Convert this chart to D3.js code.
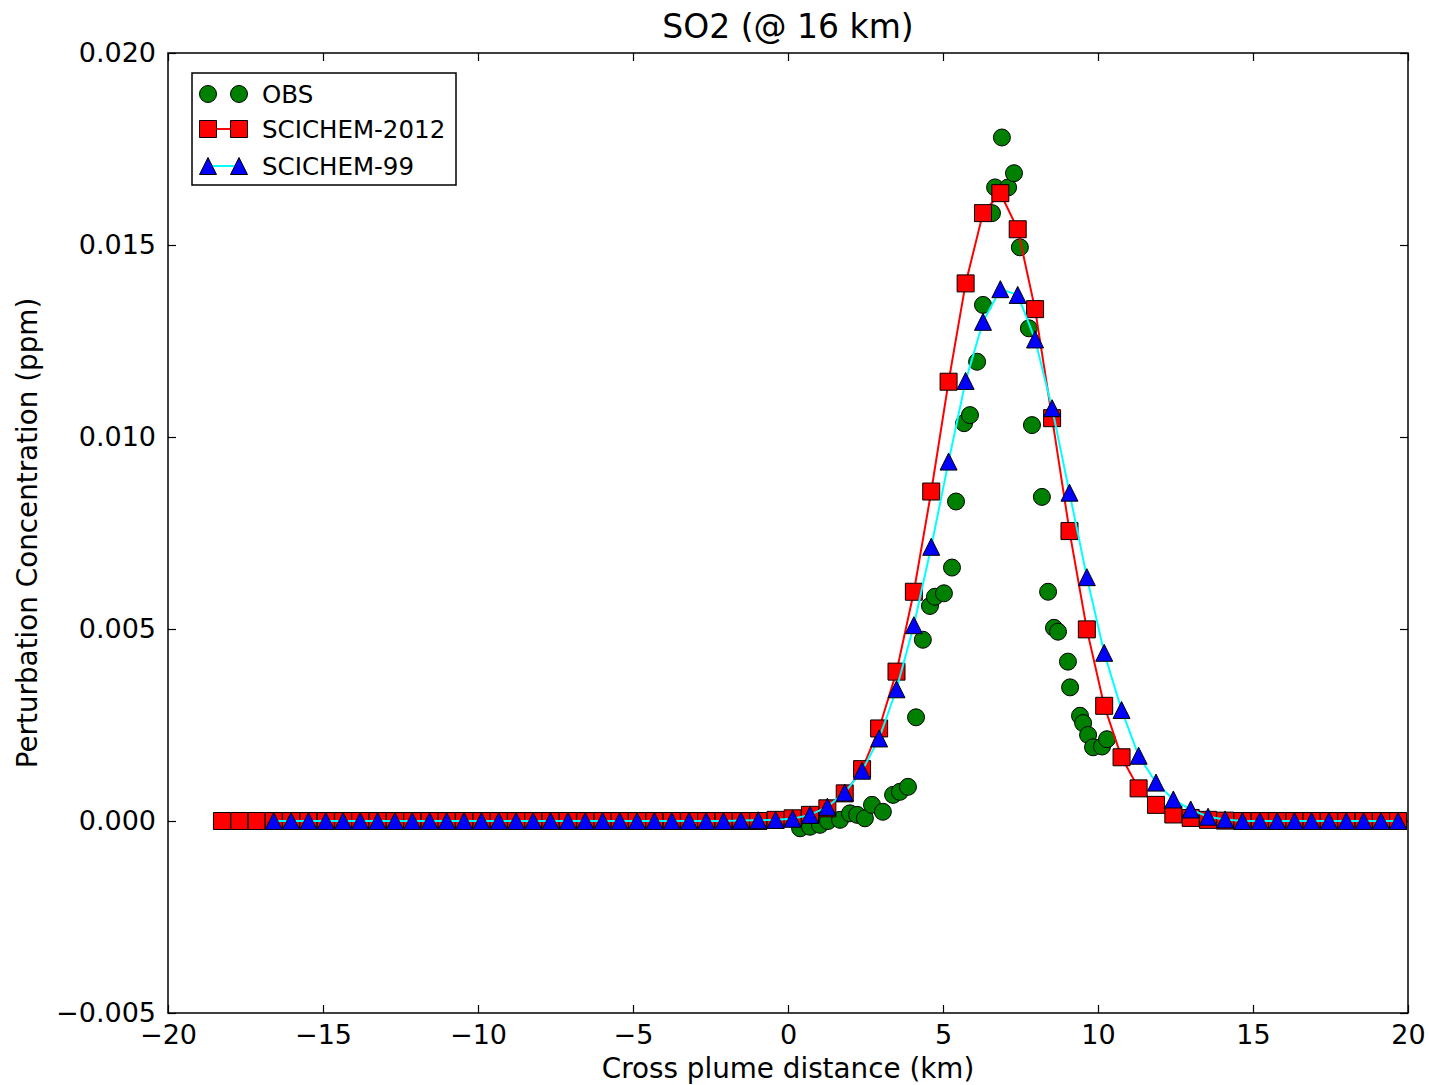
<!DOCTYPE html>
<html>
<head>
<meta charset="utf-8">
<script src="https://cdn.jsdelivr.net/npm/d3@7"></script>
<style>
  body { margin: 0; background: #fff; }
  svg text { font-family: "DejaVu Sans", sans-serif; fill: #000; }
</style>
</head>
<body>
<svg id="chart" width="1429" height="1085"></svg>
<script>
// model grid (km)
const xGrid = [-18.26, -17.70, -17.14, -16.59, -16.03, -15.47, -14.91, -14.35, -13.80, -13.24,
  -12.68, -12.12, -11.56, -11.01, -10.45, -9.89, -9.33, -8.77, -8.22, -7.66,
  -7.10, -6.54, -5.98, -5.43, -4.87, -4.31, -3.75, -3.19, -2.64, -2.08,
  -1.52, -0.96, -0.40, 0.15, 0.71, 1.27, 1.83, 2.39, 2.94, 3.50,
  4.06, 4.62, 5.18, 5.73, 6.29, 6.85, 7.41, 7.97, 8.52, 9.08,
  9.64, 10.20, 10.76, 11.31, 11.87, 12.43, 12.99, 13.55, 14.10, 14.66,
  15.22, 15.78, 16.34, 16.89, 17.45, 18.01, 18.57, 19.13, 19.68];

const scichem2012 = [0, 0, 0, 0, 0, 0, 0, 0, 0, 0,
  0, 0, 0, 0, 0, 0, 0, 0, 0, 0,
  0, 0, 0, 0, 0, 0, 0, 0, 0, 0,
  0, 0, 0.00003, 0.00007, 0.00016, 0.00033, 0.00072, 0.00135, 0.00241, 0.00389,
  0.00597, 0.00858, 0.01144, 0.0140, 0.01583, 0.01635, 0.01541, 0.01333, 0.01049, 0.00755,
  0.00499, 0.0030, 0.00166, 0.00085, 0.00042, 0.00017, 0.00008, 0.00003, 0.00001, 0,
  0, 0, 0, 0, 0, 0, 0, 0, 0];

const scichem99 = [null, null, null, 0, 0, 0, 0, 0, 0, 0,
  0, 0, 0, 0, 0, 0, 0, 0, 0, 0,
  0, 0, 0, 0, 0, 0, 0, 0, 0, 0,
  0.00001, 0.00002, 0.00003, 0.00006, 0.00016, 0.00037, 0.00074, 0.00131, 0.00215, 0.00343,
  0.0051, 0.00714, 0.00936, 0.01146, 0.0130, 0.01385, 0.0137, 0.01254, 0.01075, 0.00855,
  0.00635, 0.00438, 0.00289, 0.0017, 0.0010, 0.00056, 0.0003, 0.00011, 0.00004, 0,
  0, 0, 0, 0, 0, 0, 0, 0, 0];

// observations
const obsX = [0.39, 0.71, 1.03, 1.29, 1.68, 2.00, 2.23, 2.48, 2.71, 3.06,
  3.39, 3.61, 3.87, 4.13, 4.35, 4.58, 4.74, 5.03, 5.29, 5.42,
  5.68, 5.87, 6.10, 6.29, 6.58, 6.68, 6.90, 7.10, 7.29, 7.48,
  7.77, 7.87, 8.19, 8.39, 8.58, 8.71, 9.03, 9.10, 9.42, 9.52,
  9.68, 9.84, 10.13, 10.29];
const obsY = [-0.00019, -0.00015, -0.0001, 0.0, 0.00003, 0.0002, 0.00016, 0.00007, 0.00042, 0.00024,
  0.00068, 0.00076, 0.00089, 0.0027, 0.00472, 0.0056, 0.00584, 0.00593, 0.0066, 0.00832,
  0.01036, 0.01057, 0.01196, 0.01344, 0.01583, 0.0165, 0.0178, 0.0165, 0.01687, 0.01494,
  0.01283, 0.01031, 0.00844, 0.00597, 0.00503, 0.00493, 0.00415, 0.00348, 0.00274, 0.00255,
  0.00224, 0.00192, 0.00194, 0.00213];

const seriesNames = ['OBS', 'SCICHEM-2012', 'SCICHEM-99'];
const xTicks = [-20, -15, -10, -5, 0, 5, 10, 15, 20];
const yTicks = [-0.005, 0.000, 0.005, 0.010, 0.015, 0.020];

const svg = d3.select('#chart');
const pLeft = 168, pRight = 1408, pTop = 53, pBottom = 1013;

const x = d3.scaleLinear().domain([-20, 20]).range([pLeft, pRight]);
const y = d3.scaleLinear().domain([-0.005, 0.020]).range([pBottom, pTop]);

svg.append('rect').attr('width', 1429).attr('height', 1085).attr('fill', '#fff');

svg.append('clipPath').attr('id', 'clip')
  .append('rect').attr('x', pLeft).attr('y', pTop).attr('width', pRight - pLeft).attr('height', pBottom - pTop);

const minus = s => s.replace('-', '\u2212');

// axes with inward ticks on all four sides
const tl = 8;
const fmtY = d3.format('.3f');
svg.append('g').attr('transform', `translate(0,${pBottom})`)
  .call(d3.axisBottom(x).tickValues(xTicks).tickSize(-tl).tickPadding(12).tickFormat(d => minus(String(d))))
  .call(g => g.select('.domain').remove())
  .call(g => g.selectAll('text').attr('font-size', 27).attr('font-family', 'DejaVu Sans'));
svg.append('g').attr('transform', `translate(0,${pTop})`)
  .call(d3.axisTop(x).tickValues(xTicks).tickSize(-tl).tickFormat(''))
  .call(g => g.select('.domain').remove());
svg.append('g').attr('transform', `translate(${pLeft},0)`)
  .call(d3.axisLeft(y).tickValues(yTicks).tickSize(-tl).tickPadding(12).tickFormat(d => minus(fmtY(d))))
  .call(g => g.select('.domain').remove())
  .call(g => g.selectAll('text').attr('font-size', 27).attr('font-family', 'DejaVu Sans'));
svg.append('g').attr('transform', `translate(${pRight},0)`)
  .call(d3.axisRight(y).tickValues(yTicks).tickSize(-tl).tickFormat(''))
  .call(g => g.select('.domain').remove());
svg.selectAll('.tick line').attr('stroke', '#000').attr('stroke-width', 1.2);

const plot = svg.append('g').attr('clip-path', 'url(#clip)');

const circleSym = d3.symbol().type(d3.symbolCircle).size(Math.PI * 8.5 * 8.5);
const squarePath = 'M-8.5,-8.5H8.5V8.5H-8.5Z';
const triPath = 'M0,-8.5L8.5,8.5H-8.5Z';

// OBS
const obs = obsX.map((v, i) => [v, obsY[i]]);
plot.selectAll('.obs').data(obs).enter().append('path')
  .attr('d', circleSym())
  .attr('transform', d => `translate(${x(d[0])},${y(d[1])})`)
  .attr('fill', '#008000').attr('stroke', '#000').attr('stroke-width', 1);

// SCICHEM-2012
const s12 = xGrid.map((v, i) => [v, scichem2012[i]]);
const line = d3.line().x(d => x(d[0])).y(d => y(d[1]));
plot.append('path').datum(s12).attr('d', line)
  .attr('fill', 'none').attr('stroke', '#ff0000').attr('stroke-width', 2);
plot.selectAll('.s12').data(s12).enter().append('path')
  .attr('d', squarePath)
  .attr('transform', d => `translate(${x(d[0])},${y(d[1])})`)
  .attr('fill', '#ff0000').attr('stroke', '#000').attr('stroke-width', 1);

// SCICHEM-99
const s99 = xGrid.map((v, i) => [v, scichem99[i]]).filter(d => d[1] !== null);
plot.append('path').datum(s99).attr('d', line)
  .attr('fill', 'none').attr('stroke', '#00ffff').attr('stroke-width', 2);
plot.selectAll('.s99').data(s99).enter().append('path')
  .attr('d', triPath)
  .attr('transform', d => `translate(${x(d[0])},${y(d[1])})`)
  .attr('fill', '#0000ff').attr('stroke', '#000').attr('stroke-width', 1);

// frame
svg.append('rect').attr('x', pLeft).attr('y', pTop).attr('width', pRight - pLeft).attr('height', pBottom - pTop)
  .attr('fill', 'none').attr('stroke', '#000').attr('stroke-width', 1.5);

// titles
svg.append('text').attr('x', (pLeft + pRight) / 2).attr('y', 38).attr('text-anchor', 'middle')
  .attr('font-size', 33).text('SO2 (@ 16 km)');
svg.append('text').attr('x', (pLeft + pRight) / 2).attr('y', 1078).attr('text-anchor', 'middle')
  .attr('font-size', 27.8).text('Cross plume distance (km)');
svg.append('text').attr('transform', `translate(37,${(pTop + pBottom) / 2}) rotate(-90)`)
  .attr('text-anchor', 'middle').attr('font-size', 27.8).text('Perturbation Concentration (ppm)');

// legend
const lg = svg.append('g');
lg.append('rect').attr('x', 192).attr('y', 73).attr('width', 264).attr('height', 112)
  .attr('fill', '#fff').attr('stroke', '#000').attr('stroke-width', 1.5);
const rows = [94, 129, 166];
const mx = [208, 239];
// OBS row
mx.forEach(px => lg.append('path').attr('d', circleSym())
  .attr('transform', `translate(${px},${rows[0]})`)
  .attr('fill', '#008000').attr('stroke', '#000').attr('stroke-width', 1));
// SCICHEM-2012 row
lg.append('line').attr('x1', mx[0]).attr('x2', mx[1]).attr('y1', rows[1]).attr('y2', rows[1])
  .attr('stroke', '#ff0000').attr('stroke-width', 2);
mx.forEach(px => lg.append('path').attr('d', squarePath)
  .attr('transform', `translate(${px},${rows[1]})`)
  .attr('fill', '#ff0000').attr('stroke', '#000').attr('stroke-width', 1));
// SCICHEM-99 row
lg.append('line').attr('x1', mx[0]).attr('x2', mx[1]).attr('y1', rows[2]).attr('y2', rows[2])
  .attr('stroke', '#00ffff').attr('stroke-width', 2);
mx.forEach(px => lg.append('path').attr('d', triPath)
  .attr('transform', `translate(${px},${rows[2]})`)
  .attr('fill', '#0000ff').attr('stroke', '#000').attr('stroke-width', 1));
seriesNames.forEach((name, i) => {
  lg.append('text').attr('x', 262).attr('y', rows[i]).attr('dy', '0.36em')
    .attr('font-size', 24.5).text(name);
});
</script>
</body>
</html>
